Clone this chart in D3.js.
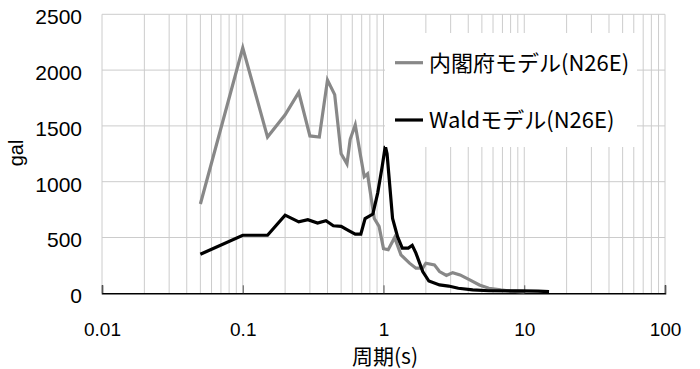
<!DOCTYPE html>
<html>
<head>
<meta charset="utf-8">
<script src="https://cdn.jsdelivr.net/npm/d3@7"></script>
<style>
  body { margin: 0; background: #fff; }
  text { font-family: "Liberation Sans", Arial, sans-serif; }
  .jp { font-family: "Noto Sans CJK JP", sans-serif; }
</style>
</head>
<body>
<svg width="700" height="369"></svg>
<script>
// 内閣府モデル (N26E)
var naikakuPeriod = [0.05, 0.1, 0.15, 0.2, 0.25, 0.3, 0.35, 0.4, 0.45, 0.5, 0.55, 0.58, 0.63, 0.69, 0.73, 0.77, 0.86, 0.93, 1.0, 1.08, 1.2, 1.33, 1.53, 1.7, 1.9, 2.0, 2.3, 2.5, 2.8, 3.1, 3.5, 4.1, 4.8, 5.6, 6.8, 8, 10];
var naikakuAcc    = [800, 2200, 1400, 1600, 1800, 1410, 1400, 1910, 1780, 1250, 1160, 1380, 1510, 1220, 1045, 1070, 670, 600, 400, 390, 500, 345, 270, 225, 225, 270, 255, 195, 160, 185, 165, 120, 75, 45, 30, 20, 12];
// Waldモデル (N26E)
var waldPeriod = [0.05, 0.1, 0.15, 0.2, 0.25, 0.29, 0.34, 0.39, 0.44, 0.5, 0.57, 0.63, 0.69, 0.74, 0.84, 0.91, 0.98, 1.03, 1.06, 1.16, 1.26, 1.36, 1.5, 1.6, 1.7, 1.9, 2.1, 2.5, 2.9, 3.4, 4.3, 5.6, 9.6, 12.5, 15];
var waldAcc    = [350, 520, 520, 700, 640, 660, 630, 650, 605, 600, 560, 530, 530, 670, 710, 900, 1140, 1320, 1250, 670, 505, 405, 405, 430, 360, 195, 110, 75, 65, 45, 30, 23, 22, 20, 15];

var xTicks = [0.01, 0.1, 1, 10, 100];
var yTicks = [0, 500, 1000, 1500, 2000, 2500];

var svg = d3.select("svg");

var x = d3.scaleLog().domain([0.01, 100]).range([102, 665]);
var y = d3.scaleLinear().domain([0, 2500]).range([293.3, 14.3]);

// grid
var grid = svg.append("g");
grid.selectAll("line.v")
  .data(x.ticks())
  .enter().append("line")
  .attr("x1", d => x(d)).attr("x2", d => x(d))
  .attr("y1", y(2500)).attr("y2", y(0))
  .attr("stroke", "#cccccc").attr("stroke-width", 1);
grid.selectAll("line.h")
  .data(yTicks.slice(1))
  .enter().append("line")
  .attr("x1", x(0.01)).attr("x2", x(100))
  .attr("y1", d => y(d)).attr("y2", d => y(d))
  .attr("stroke", "#cccccc").attr("stroke-width", 1);

// x axis
var xAxis = d3.axisBottom(x)
  .tickValues(xTicks)
  .tickSize(-8)
  .tickPadding(29)
  .tickFormat(d => String(d));
var xg = svg.append("g")
  .attr("transform", "translate(0," + y(0) + ")")
  .call(xAxis);
xg.select(".domain").attr("stroke", "#000").attr("stroke-width", 1.5);
xg.selectAll(".tick line").attr("stroke", "#555");
xg.selectAll("text").attr("font-size", "19px").attr("fill", "#000")
  .style("font-family", "'Liberation Sans', Arial, sans-serif");

// y axis labels
var yAxis = d3.axisLeft(y).tickValues(yTicks).tickSize(0).tickPadding(20)
  .tickFormat(d => String(d));
var yg = svg.append("g")
  .attr("transform", "translate(" + x(0.01) + ",0)")
  .call(yAxis);
yg.select(".domain").remove();
yg.selectAll("text").attr("font-size", "21px").attr("fill", "#000").attr("dy", "0.45em")
  .style("font-family", "'Liberation Sans', Arial, sans-serif");

// series
var line = d3.line().x(d => x(d[0])).y(d => y(d[1]));
svg.append("path")
  .datum(d3.zip(naikakuPeriod, naikakuAcc))
  .attr("d", line).attr("fill", "none")
  .attr("stroke", "#888888").attr("stroke-width", 3.2);
svg.append("path")
  .datum(d3.zip(waldPeriod, waldAcc))
  .attr("d", line).attr("fill", "none")
  .attr("stroke", "#000000").attr("stroke-width", 3.2);

// legend
var legend = svg.append("g");
legend.append("rect")
  .attr("x", 385).attr("y", 33).attr("width", 252).attr("height", 114)
  .attr("fill", "#fff");
var items = [
  {name: "内閣府モデル(N26E)", color: "#888888", cy: 62.7},
  {name: "Waldモデル(N26E)", color: "#000000", cy: 120}
];
items.forEach(function(it) {
  legend.append("line")
    .attr("x1", 395).attr("x2", 423).attr("y1", it.cy).attr("y2", it.cy)
    .attr("stroke", it.color).attr("stroke-width", 3.2);
  legend.append("text")
    .attr("class", "jp")
    .attr("x", 429).attr("y", it.cy)
    .attr("dy", "0.36em")
    .attr("font-size", "22px")
    .text(it.name);
});

// axis titles
svg.append("text")
  .attr("class", "jp")
  .attr("x", 385).attr("y", 364)
  .attr("text-anchor", "middle")
  .attr("font-size", "21px")
  .text("周期(s)");
svg.append("text")
  .attr("transform", "translate(23,153) rotate(-90)")
  .attr("text-anchor", "middle")
  .attr("font-size", "20px")
  .text("gal");
</script>
</body>
</html>
